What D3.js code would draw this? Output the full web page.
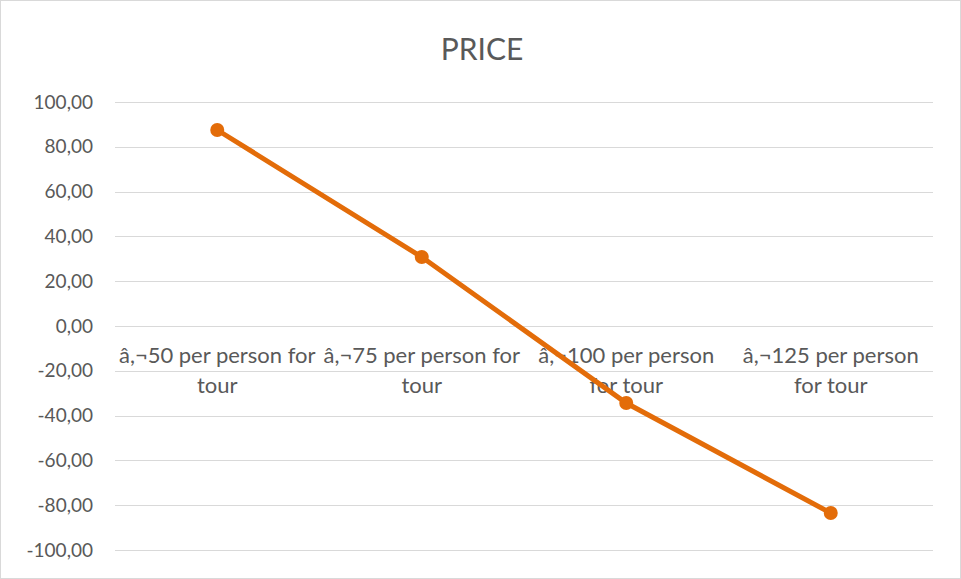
<!DOCTYPE html>
<html><head><meta charset="utf-8">
<script src="https://cdn.jsdelivr.net/npm/d3@7"></script>
<style>body{margin:0;background:#fff;} svg{display:block;}</style>
</head><body>
<script>
const categories = [["â,¬50 per person for","tour"],["â,¬75 per person for","tour"],["â,¬100 per person","for tour"],["â,¬125 per person","for tour"]];
const categoryKeys = ["c50","c75","c100","c125"];
const values = [87.5, 30.8, -34.4, -83.5];
const yTicks = [-100,-80,-60,-40,-20,0,20,40,60,80,100];
const title = "PRICE";

const W = 961, H = 579;
const svg = d3.select("body").append("svg").attr("width", W).attr("height", H);
svg.append("rect").attr("x",0.5).attr("y",0.5).attr("width",W-1).attr("height",H-1)
  .attr("fill","#fff").attr("stroke","#d9d9d9");

const font = "Lato, 'Open Sans', sans-serif";
const x = d3.scaleBand().domain(categoryKeys).range([115, 933]);
const y = d3.scaleLinear().domain([-100, 100]).range([550, 102]);

svg.append("text").attr("x", 482).attr("y", 60).attr("text-anchor","middle")
  .attr("font-family", font).attr("font-size", 30).attr("fill","#595959").text(title);

const grid = svg.append("g");
grid.selectAll("line").data(yTicks).join("line")
  .attr("x1", 115).attr("x2", 933).attr("y1", d => Math.round(y(d))+0.5).attr("y2", d => Math.round(y(d))+0.5)
  .attr("stroke", "#d9d9d9").attr("stroke-width", 1);

const fmt = d => d3.format(".2f")(d).replace("−","-").replace(".", ",");
const yAxis = d3.axisLeft(y).tickValues(yTicks).tickFormat(fmt).tickSize(0).tickPadding(0);
const ga = svg.append("g").attr("transform","translate(93,0)").call(yAxis);
ga.select(".domain").remove();
ga.selectAll("text").attr("font-family", font).attr("font-size", 19).attr("fill","#595959");

const cat = svg.append("g");
categoryKeys.forEach((k,i) => {
  const t = cat.append("text").attr("x", x(k)+x.bandwidth()/2).attr("y", 363)
    .attr("text-anchor","middle").attr("font-family", font).attr("font-size", 22).attr("fill","#595959");
  categories[i].forEach((ln,j) => t.append("tspan").attr("x", x(k)+x.bandwidth()/2).attr("dy", j===0?0:30).text(ln));
});

const color = "#e36c09";
const line = d3.line().x((d,i) => x(categoryKeys[i])+x.bandwidth()/2).y(d => y(d));
svg.append("path").datum(values).attr("d", line).attr("fill","none")
  .attr("stroke", color).attr("stroke-width", 5).attr("stroke-linecap","round");
svg.selectAll("circle.pt").data(values).join("circle").attr("class","pt")
  .attr("cx",(d,i) => x(categoryKeys[i])+x.bandwidth()/2).attr("cy", d => y(d))
  .attr("r", 7).attr("fill", color);
</script>
</body></html>
